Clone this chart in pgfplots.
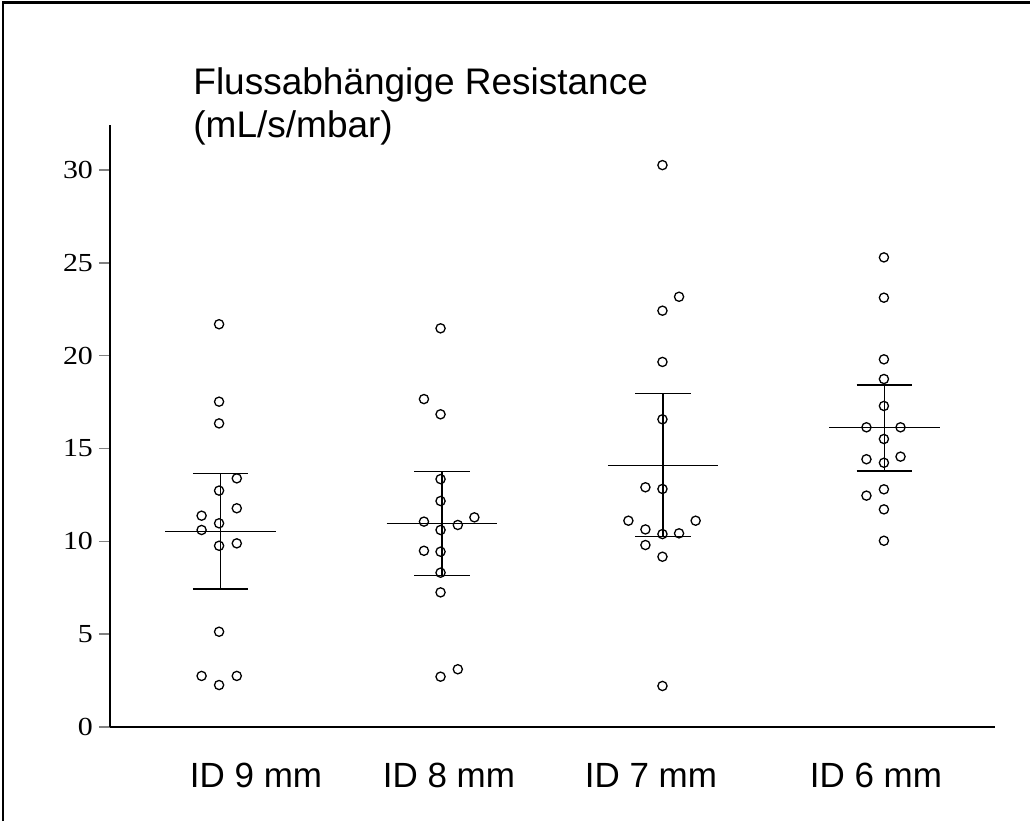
\documentclass[border=0pt]{standalone}
\usepackage{pgfplots}
\pgfplotsset{compat=1.18}
\usepackage{fontspec}
\setmainfont{Liberation Sans}
\newfontfamily\tickfont{Liberation Serif}
\begin{document}
\begin{tikzpicture}[x=1pt,y=1pt]
\path[use as bounding box] (0,0) rectangle (515,410.5);
\draw[line width=1.4pt] (1.5,0) -- (1.5,409.3) -- (515,409.3);
\node[anchor=base west,inner sep=0pt] at (96.5,363) {\fontsize{18.5}{18.5}\selectfont Flussabhängige Resistance};
\node[anchor=base west,inner sep=0pt] at (96.5,341.5) {\fontsize{18.5}{18.5}\selectfont (mL/s/mbar)};
\begin{axis}[
  at={(55pt,47pt)}, anchor=south west,
  scale only axis, width=442.5pt, height=301pt,
  xmin=0.5, xmax=4.5, ymin=0, ymax=32.42,
  axis x line*=bottom, axis y line*=left,
  axis line style={line width=0.75pt},
  clip=false,
  ytick={0,5,10,15,20,25,30},
  tick align=outside,
  major tick length=5.5pt,
  ytick style={line width=0.75pt},
  xtick={1.16,2.032,2.945,3.962},
  xticklabels={ID 9 mm, ID 8 mm, ID 7 mm, ID 6 mm},
  xtick style={draw=none},
  x tick label style={font=\fontsize{17.5}{17.5}\selectfont, anchor=base, yshift=-24.5pt},
  y tick label style={font=\tickfont\fontsize{13}{13}\selectfont, xshift=0.5pt},
  yticklabel={\scalebox{1.15}[1]{\pgfmathprintnumber{\tick}}},
  /pgf/number format/assume math mode=true,
]
% mean and SD bars
\addplot[black, line width=0.75pt, unbounded coords=jump] coordinates {
 (0.75,10.52) (1.25,10.52) (1,nan)
 (0.875,13.66) (1.125,13.66) (1,nan)
 (0.875,7.42) (1.125,7.42) (1,nan)
 (1,7.42) (1,13.66) (1,nan)
 (1.75,10.97) (2.25,10.97) (2,nan)
 (1.875,13.77) (2.125,13.77) (2,nan)
 (1.875,8.17) (2.125,8.17) (2,nan)
 (2,8.17) (2,13.77) (2,nan)
 (2.75,14.07) (3.25,14.07) (3,nan)
 (2.875,17.97) (3.125,17.97) (3,nan)
 (2.875,10.25) (3.125,10.25) (3,nan)
 (3,10.25) (3,17.97) (3,nan)
 (3.75,16.14) (4.25,16.14) (4,nan)
 (3.875,18.42) (4.125,18.42) (4,nan)
 (3.875,13.80) (4.125,13.80) (4,nan)
 (4,13.80) (4,18.42)
};
% ID 9 mm
\addplot[only marks, mark=o, mark size=2.3pt, mark options={fill=white, line width=0.65pt}] coordinates {
 (0.993,21.69) (0.993,17.52) (0.993,16.35) (1.073,13.39) (0.993,12.73)
 (1.073,11.78) (0.914,11.38) (0.993,10.97) (0.914,10.61) (1.073,9.89)
 (0.993,9.76) (0.993,5.13) (0.914,2.75) (0.993,2.26) (1.073,2.75)
};
% ID 8 mm
\addplot[only marks, mark=o, mark size=2.3pt, mark options={fill=white, line width=0.65pt}] coordinates {
 (1.994,21.47) (1.919,17.66) (1.994,16.84) (1.994,13.35) (1.994,12.17)
 (1.919,11.06) (2.072,10.88) (2.147,11.29) (1.994,10.61) (1.919,9.49)
 (1.994,9.44) (1.994,8.31) (1.994,7.25) (1.994,2.71) (2.072,3.11)
};
% ID 7 mm
\addplot[only marks, mark=o, mark size=2.3pt, mark options={fill=white, line width=0.65pt}] coordinates {
 (2.997,30.26) (3.072,23.17) (2.997,22.42) (2.997,19.66) (2.997,16.57)
 (2.920,12.91) (2.997,12.82) (2.843,11.11) (3.147,11.11) (2.920,10.64)
 (2.997,10.39) (3.072,10.43) (2.920,9.80) (2.997,9.17) (2.997,2.21)
};
% ID 6 mm
\addplot[only marks, mark=o, mark size=2.3pt, mark options={fill=white, line width=0.65pt}] coordinates {
 (3.998,25.29) (3.998,23.12) (3.998,19.80) (3.998,18.74) (3.998,17.29)
 (3.919,16.14) (4.073,16.14) (3.998,15.51) (3.919,14.42) (4.073,14.56)
 (3.998,14.23) (3.919,12.46) (3.998,12.80) (3.998,11.72) (3.998,10.03)
};
\end{axis}
\end{tikzpicture}
\end{document}
